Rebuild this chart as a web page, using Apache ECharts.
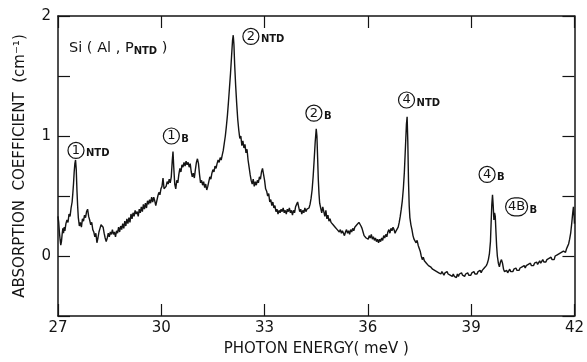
<!DOCTYPE html>
<html>
<head>
<meta charset="utf-8">
<script src="https://cdn.jsdelivr.net/npm/echarts@6/dist/echarts.min.js"></script>
<style>
  html, body { margin: 0; padding: 0; background: #fff; }
  #chart { width: 587px; height: 362px; }
</style>
</head>
<body>
<div id="chart"></div>
<script>
// Absorption spectrum of Si(Al, P_NTD): [photon energy (meV), absorption coefficient (cm^-1)]
const spectrum27to30 = [
  [27.00,0.33],[27.02,0.28],[27.04,0.20],[27.06,0.14],[27.08,0.09],[27.10,0.12],[27.12,0.18],
  [27.14,0.23],[27.16,0.19],[27.18,0.24],[27.20,0.21],[27.23,0.27],[27.26,0.30],[27.29,0.28],
  [27.32,0.35],[27.35,0.33],[27.38,0.40],[27.41,0.45],[27.43,0.52],[27.45,0.60],[27.47,0.70],
  [27.49,0.77],[27.51,0.80],[27.53,0.72],[27.55,0.55],[27.57,0.42],[27.59,0.32],[27.62,0.25],
  [27.65,0.28],[27.68,0.24],[27.71,0.31],[27.74,0.29],[27.77,0.34],[27.80,0.32],[27.83,0.37],
  [27.86,0.39],[27.89,0.33],[27.92,0.30],[27.95,0.26],[27.98,0.28],[28.01,0.22],[28.04,0.20],
  [28.07,0.16],[28.10,0.19],[28.13,0.11],[28.16,0.15],[28.19,0.20],[28.22,0.23],[28.25,0.26],
  [28.28,0.27],[28.31,0.24],[28.34,0.19],[28.37,0.15],[28.40,0.12],[28.43,0.15],[28.46,0.19],
  [28.49,0.16],[28.52,0.20],[28.55,0.18],[28.58,0.22],[28.61,0.18],[28.64,0.20],[28.67,0.16],
  [28.70,0.21],[28.73,0.19],[28.76,0.24],[28.79,0.20],[28.82,0.25],[28.85,0.22],[28.88,0.27],
  [28.91,0.23],[28.94,0.29],[28.97,0.25],[29.00,0.31],[29.03,0.27],[29.06,0.32],[29.09,0.28],
  [29.12,0.35],[29.15,0.31],[29.18,0.36],[29.21,0.33],[29.24,0.38],[29.27,0.35],[29.30,0.37],
  [29.33,0.33],[29.36,0.39],[29.39,0.36],[29.42,0.41],[29.45,0.37],[29.48,0.43],[29.51,0.39],
  [29.54,0.44],[29.57,0.40],[29.60,0.46],[29.63,0.43],[29.66,0.47],[29.69,0.44],[29.72,0.49],
  [29.75,0.45],[29.78,0.49],[29.81,0.46],[29.84,0.42],[29.87,0.41],[29.90,0.50],[29.93,0.53],
  [29.96,0.51],[29.99,0.56]
];
const spectrum30to33 = [
  [30.02,0.58],[30.05,0.65],[30.08,0.56],[30.11,0.55],[30.14,0.58],[30.17,0.62],[30.20,0.60],
  [30.23,0.64],[30.26,0.61],[30.29,0.66],[30.32,0.80],[30.34,0.87],[30.36,0.75],[30.39,0.60],
  [30.42,0.56],[30.45,0.63],[30.48,0.61],[30.51,0.68],[30.54,0.73],[30.57,0.70],[30.60,0.76],
  [30.63,0.74],[30.66,0.78],[30.69,0.75],[30.72,0.79],[30.75,0.76],[30.78,0.78],[30.81,0.74],
  [30.84,0.77],[30.87,0.70],[30.90,0.66],[30.93,0.69],[30.96,0.65],[30.99,0.72],[31.02,0.78],
  [31.05,0.81],[31.08,0.77],[31.11,0.68],[31.14,0.61],[31.17,0.63],[31.20,0.59],[31.23,0.62],
  [31.26,0.57],[31.29,0.60],[31.32,0.55],[31.35,0.58],[31.38,0.62],[31.41,0.66],[31.44,0.64],
  [31.47,0.69],[31.50,0.72],[31.53,0.70],[31.56,0.75],[31.59,0.73],[31.62,0.77],[31.65,0.80],
  [31.68,0.78],[31.71,0.82],[31.74,0.80],[31.77,0.84],[31.80,0.88],[31.83,0.94],[31.86,1.00],
  [31.89,1.08],[31.92,1.17],[31.95,1.28],[31.98,1.40],[32.01,1.52],[32.04,1.66],[32.07,1.80],
  [32.09,1.84],[32.11,1.76],[32.13,1.60],[32.16,1.42],[32.19,1.27],[32.22,1.14],[32.25,1.05],
  [32.28,0.98],[32.31,1.00],[32.34,0.92],[32.37,0.96],[32.40,0.90],[32.43,0.93],[32.46,0.86],
  [32.49,0.89],[32.52,0.80],[32.55,0.74],[32.58,0.68],[32.61,0.63],[32.64,0.60],[32.67,0.64],
  [32.70,0.58],[32.73,0.62],[32.76,0.59],[32.79,0.63],[32.82,0.61],[32.85,0.66],[32.88,0.64],
  [32.91,0.70],[32.94,0.73],[32.97,0.72],[33.00,0.63],[33.03,0.56],[33.06,0.54],[33.09,0.50],
  [33.12,0.52],[33.15,0.45],[33.18,0.47],[33.21,0.42]
];
const spectrum33to37 = [
  [33.24,0.45],[33.27,0.40],[33.30,0.42],[33.33,0.37],[33.36,0.39],[33.39,0.35],[33.42,0.38],
  [33.45,0.36],[33.48,0.39],[33.51,0.37],[33.54,0.40],[33.57,0.36],[33.60,0.38],[33.63,0.35],
  [33.66,0.39],[33.69,0.37],[33.72,0.40],[33.75,0.36],[33.78,0.38],[33.81,0.34],[33.84,0.38],
  [33.87,0.36],[33.90,0.41],[33.93,0.43],[33.96,0.45],[33.99,0.41],[34.02,0.37],[34.05,0.39],
  [34.08,0.35],[34.11,0.38],[34.14,0.36],[34.17,0.40],[34.20,0.37],[34.23,0.39],[34.26,0.38],
  [34.29,0.40],[34.32,0.43],[34.35,0.48],[34.38,0.55],[34.41,0.66],[34.44,0.80],[34.47,0.95],
  [34.50,1.06],[34.52,1.00],[34.54,0.82],[34.56,0.64],[34.58,0.52],[34.60,0.44],[34.63,0.40],
  [34.66,0.36],[34.69,0.41],[34.72,0.37],[34.75,0.33],[34.78,0.38],[34.81,0.31],[34.84,0.34],
  [34.87,0.29],[34.90,0.31],[34.93,0.28],[34.96,0.29],[34.99,0.26],[35.02,0.27],[35.05,0.24],
  [35.08,0.25],[35.11,0.22],[35.14,0.23],[35.17,0.20],[35.20,0.22],[35.23,0.19],[35.26,0.21],
  [35.29,0.20],[35.32,0.17],[35.35,0.20],[35.38,0.22],[35.41,0.19],[35.44,0.21],[35.47,0.18],
  [35.50,0.22],[35.53,0.20],[35.56,0.23],[35.59,0.21],[35.62,0.24],[35.65,0.23],[35.68,0.26],
  [35.71,0.25],[35.74,0.28],[35.77,0.29],[35.80,0.25],[35.83,0.23],[35.86,0.20],[35.89,0.17],
  [35.92,0.18],[35.95,0.15],[35.98,0.16],[36.01,0.14],[36.04,0.17],[36.07,0.15],[36.10,0.18],
  [36.13,0.14],[36.16,0.16],[36.19,0.13],[36.22,0.15],[36.25,0.12],[36.28,0.14],[36.31,0.11],
  [36.34,0.14],[36.37,0.12],[36.40,0.15],[36.43,0.13],[36.46,0.17],[36.49,0.15],[36.52,0.18],
  [36.55,0.16],[36.58,0.20],[36.61,0.22],[36.64,0.19],[36.67,0.23],[36.70,0.21],[36.73,0.24],
  [36.76,0.22],[36.79,0.19],[36.82,0.21],[36.85,0.20],[36.88,0.24],[36.91,0.28],[36.94,0.33],
  [36.97,0.39],[37.00,0.46],[37.03,0.56],[37.06,0.70],[37.09,0.90],[37.12,1.10],[37.14,1.16],
  [37.16,0.95],[37.18,0.62],[37.20,0.42],[37.22,0.32],[37.25,0.26],[37.28,0.22],[37.31,0.17],
  [37.34,0.14],[37.37,0.15],[37.40,0.11],[37.43,0.13],[37.46,0.09],[37.49,0.08],[37.52,0.04],
  [37.55,0.00],[37.58,-0.03]
];
const spectrum37to42 = [
  [37.61,-0.01],[37.64,-0.04],[37.67,-0.03],[37.70,-0.06],[37.73,-0.05],[37.76,-0.08],[37.79,-0.07],
  [37.82,-0.09],[37.85,-0.08],[37.88,-0.11],[37.91,-0.10],[37.94,-0.12],[37.97,-0.11],[38.00,-0.13],
  [38.03,-0.12],[38.06,-0.14],[38.09,-0.13],[38.12,-0.15],[38.15,-0.13],[38.18,-0.14],[38.21,-0.16],
  [38.24,-0.14],[38.27,-0.15],[38.30,-0.13],[38.33,-0.15],[38.36,-0.14],[38.39,-0.16],[38.42,-0.15],
  [38.45,-0.17],[38.48,-0.15],[38.51,-0.17],[38.54,-0.16],[38.57,-0.18],[38.60,-0.15],[38.63,-0.17],
  [38.66,-0.15],[38.69,-0.16],[38.72,-0.14],[38.75,-0.16],[38.78,-0.15],[38.81,-0.17],[38.84,-0.15],
  [38.87,-0.16],[38.90,-0.14],[38.93,-0.16],[38.96,-0.15],[38.99,-0.16],[39.02,-0.14],[39.05,-0.15],
  [39.08,-0.13],[39.11,-0.15],[39.14,-0.14],[39.17,-0.15],[39.20,-0.13],[39.23,-0.14],[39.26,-0.12],
  [39.29,-0.14],[39.32,-0.12],[39.35,-0.13],[39.38,-0.10],[39.41,-0.11],[39.44,-0.08],[39.47,-0.06],
  [39.50,-0.03],[39.53,0.02],[39.56,0.12],[39.58,0.28],[39.60,0.43],[39.62,0.51],[39.64,0.42],
  [39.66,0.30],[39.68,0.36],[39.70,0.33],[39.72,0.20],[39.74,0.08],[39.76,0.00],[39.79,-0.06],
  [39.82,-0.09],[39.85,-0.05],[39.88,-0.03],[39.91,-0.06],[39.94,-0.11],[39.97,-0.13],[40.00,-0.14],
  [40.03,-0.12],[40.06,-0.14],[40.09,-0.13],[40.12,-0.11],[40.15,-0.13],[40.18,-0.12],[40.21,-0.13],
  [40.24,-0.11],[40.27,-0.12],[40.30,-0.10],[40.33,-0.12],[40.36,-0.11],[40.39,-0.12],[40.42,-0.10],
  [40.45,-0.11],[40.48,-0.09],[40.51,-0.10],[40.54,-0.08],[40.57,-0.10],[40.60,-0.08],[40.63,-0.09],
  [40.66,-0.07],[40.69,-0.08],[40.72,-0.06],[40.75,-0.08],[40.78,-0.07],[40.81,-0.08],[40.84,-0.06],
  [40.87,-0.07],[40.90,-0.05],[40.93,-0.07],[40.96,-0.06],[40.99,-0.04],[41.02,-0.06],[41.05,-0.05],
  [41.08,-0.03],[41.11,-0.05],[41.14,-0.04],[41.17,-0.05],[41.20,-0.03],[41.23,-0.04],[41.26,-0.02],
  [41.29,-0.03],[41.32,-0.01],[41.35,-0.03],[41.38,-0.02],[41.41,-0.03],[41.44,0.00],[41.47,-0.01],
  [41.50,0.01],[41.53,0.00],[41.56,0.02],[41.59,0.01],[41.62,0.03],[41.65,0.02],[41.68,0.04],
  [41.71,0.05],[41.74,0.03],[41.77,0.06],[41.80,0.08],[41.83,0.10],[41.86,0.14],[41.89,0.19],
  [41.92,0.27],[41.95,0.36],[41.97,0.41],[41.99,0.33],[42.00,0.27]
];

// Axis ranges and labelled ticks
const energyRange = [27, 42];
const energyStep = 3;
const absorptionRange = [-0.5, 2];
const absorptionStep = 0.5;
const absorptionLabels = [0, 1, 2];

// Line assignments: circled line number, subscript, anchor [meV, cm^-1]
const lineIds = ['1', '1', '2', '2', '4', '4', '4B'];
const lineSubs = ['NTD', 'B', 'NTD', 'B', 'NTD', 'B', 'B'];
const lineAnchors = [
  [27.29, 0.88], [30.06, 1.00], [32.37, 1.83], [34.20, 1.19],
  [36.89, 1.30], [39.23, 0.68], [40.00, 0.41]
];
const sampleName = { text: 'Si ( Al , P', sub: 'NTD', tail: ' )', at: [27.32, 1.73] };

const spectrum = [].concat(spectrum27to30, spectrum30to33, spectrum33to37, spectrum37to42);

const FONT = 'DejaVu Sans';
const INK = '#141414';

const richStyles = {
  c: { width: 16, height: 16, lineHeight: 16, borderRadius: 9, borderWidth: 1.2,
       borderColor: INK, align: 'center', fontSize: 13, fontFamily: FONT, color: INK },
  w: { width: 22, height: 18, lineHeight: 18, borderRadius: 10, borderWidth: 1.2,
       borderColor: INK, align: 'center', fontSize: 13, fontFamily: FONT, color: INK },
  s: { fontSize: 10, fontWeight: 'bold', lineHeight: 10, verticalAlign: 'bottom',
       padding: [0, 0, 0, 2], fontFamily: FONT, color: INK },
  t: { fontSize: 14.5, lineHeight: 16, fontFamily: FONT, color: INK },
  ts: { fontSize: 10, fontWeight: 'bold', lineHeight: 10, verticalAlign: 'bottom',
        fontFamily: FONT, color: INK }
};

const markData = lineIds.map((id, i) => ({
  coord: lineAnchors[i],
  label: {
    formatter: (id.length > 1 ? '{w|' : '{c|') + id + '}{s|' + lineSubs[i] + '}'
  }
}));
markData.push({
  coord: sampleName.at,
  label: {
    formatter: '{t|' + sampleName.text + '}{ts|' + sampleName.sub + '}{t|' + sampleName.tail + '}'
  }
});

const frameAxis = {
  axisLine: { show: true, onZero: false, lineStyle: { color: INK, width: 1.5 } },
  axisTick: { show: true, inside: true, length: 12, lineStyle: { color: INK, width: 1.2 } },
  splitLine: { show: false }
};

const chart = echarts.init(document.getElementById('chart'), null, { renderer: 'canvas' });
chart.setOption({
  animation: false,
  backgroundColor: '#fff',
  grid: { left: 58, right: 4, top: 16, bottom: 37 },
  xAxis: [
    Object.assign({}, frameAxis, {
      type: 'value', position: 'bottom',
      min: energyRange[0], max: energyRange[1], interval: energyStep,
      name: 'PHOTON ENERGY( meV )', nameLocation: 'middle', nameGap: 26,
      nameTextStyle: { fontFamily: FONT, fontSize: 15, color: INK },
      axisLabel: { fontFamily: FONT, fontSize: 15, color: INK, margin: 5 }
    }),
    Object.assign({}, frameAxis, {
      type: 'value', position: 'top',
      min: energyRange[0], max: energyRange[1], interval: energyStep,
      axisLabel: { show: false }
    })
  ],
  yAxis: [
    Object.assign({}, frameAxis, {
      type: 'value', position: 'left',
      min: absorptionRange[0], max: absorptionRange[1], interval: absorptionStep,
      name: 'ABSORPTION  COEFFICIENT  (cm⁻¹)', nameLocation: 'middle', nameGap: 30,
      nameRotate: 90,
      nameTextStyle: { fontFamily: FONT, fontSize: 15, color: INK },
      axisLabel: {
        fontFamily: FONT, fontSize: 15, color: INK, margin: 7,
        formatter: v => (absorptionLabels.indexOf(v) >= 0 ? String(v) : '')
      }
    }),
    Object.assign({}, frameAxis, {
      type: 'value', position: 'right',
      min: absorptionRange[0], max: absorptionRange[1], interval: absorptionStep,
      axisLabel: { show: false }
    })
  ],
  series: [{
    type: 'line',
    xAxisIndex: 0, yAxisIndex: 0,
    data: spectrum,
    showSymbol: false,
    symbol: 'none',
    smooth: false,
    sampling: false,
    lineStyle: { color: INK, width: 1.4 },
    markPoint: {
      symbol: 'circle', symbolSize: 0,
      label: { show: true, position: 'right', distance: 0, rich: richStyles },
      data: markData
    }
  }]
});
</script>
</body>
</html>
